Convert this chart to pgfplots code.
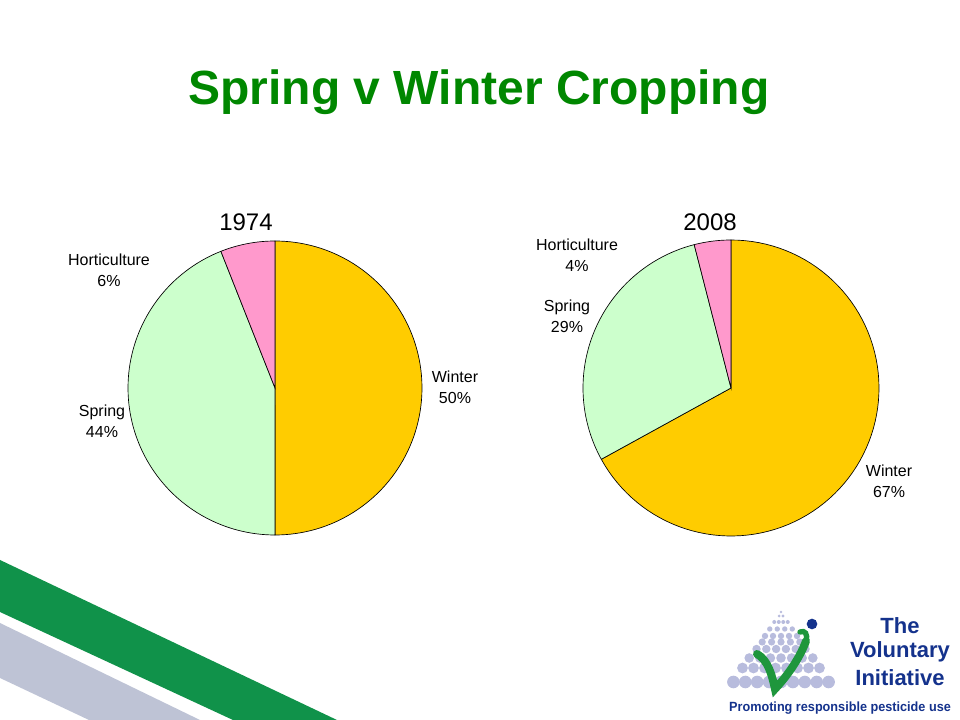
\documentclass[border=0pt]{standalone}
\usepackage{pgfplots}
\pgfplotsset{compat=1.18}
\usepackage{fontspec}
\setmainfont{Liberation Sans}

\definecolor{winter}{HTML}{FFCC00}
\definecolor{spring}{HTML}{CCFFCC}
\definecolor{hort}{HTML}{FF99CC}
\definecolor{titlegreen}{RGB}{0,135,0}
\definecolor{bandgreen}{RGB}{16,146,74}
\definecolor{bandgrey}{RGB}{190,195,213}
\definecolor{dotgrey}{RGB}{184,188,221}
\definecolor{logogreen}{RGB}{30,150,60}
\definecolor{navy}{RGB}{20,50,140}

% one slice: centre x, centre y, radius, start %, end %, colour
% slices run clockwise from 12 o'clock
\newcommand{\pieslice}[6]{%
  \pgfmathsetmacro{\ta}{90-3.6*#5}%
  \pgfmathsetmacro{\tb}{90-3.6*#4}%
  \addplot[fill=#6, draw=black, line width=0.5pt, domain=\ta:\tb, samples=90, variable=\t]
    ({#1+#3*cos(\t)}, {#2-#3*sin(\t)}) -- (axis cs:#1,#2) -- cycle;
}
% whole pie from the three shares: winter, spring, horticulture
\newcommand{\piechart}[6]{%
  \pgfmathsetmacro{\cwa}{#4}%
  \pgfmathsetmacro{\cwb}{#4+#5}%
  \pgfmathsetmacro{\cwc}{#4+#5+#6}%
  \pieslice{#1}{#2}{#3}{0}{\cwa}{winter}
  \pieslice{#1}{#2}{#3}{\cwa}{\cwb}{spring}
  \pieslice{#1}{#2}{#3}{\cwb}{\cwc}{hort}
}

\begin{document}
\begin{tikzpicture}
\useasboundingbox (0,0) rectangle (720pt,540pt);

% decoration in slide pixels (y downwards)
\begin{scope}[x=0.75pt, y=-0.75pt, shift={(0,540pt)}]
  \fill[bandgreen] (0,560) -- (337,720) -- (233,720) -- (0,612) -- cycle;
  \fill[bandgrey] (0,623) -- (200,720) -- (89,720) -- (0,678) -- cycle;

  \foreach \yy/\n/\sp/\r in {612/1/0/1.3, 616/2/3.8/1.6, 622/4/4.5/2.0, 629/4/7.5/2.7,
      636/5/8.0/3.2, 642/5/9.4/3.6, 649/6/9.8/4.2, 658/7/10.6/4.8, 668/8/11.0/5.4, 682/9/11.9/6.3} {
    \foreach \i in {1,...,\n} {
      \pgfmathsetmacro{\xx}{781+(\i-(\n+1)/2)*\sp}
      \fill[dotgrey] (\xx,\yy) circle[radius=\r*0.75pt];
    }
  }
  \draw[logogreen, line width=6pt, line cap=round]
    (757,654) .. controls (768,660) and (772,675) .. (775,689)
    .. controls (790,673) and (801,655) .. (806,641);
  \draw[logogreen, line width=4pt, line cap=round]
    (806,641) .. controls (808,634) and (805,630) .. (800,632);
  \fill[navy] (812,624) circle[radius=4pt];

  \begin{scope}[every node/.style={font=\fontsize{16.5}{18}\selectfont\bfseries, text=navy}]
    \node at (900,626) {The};
    \node at (900,652) {Voluntary};
    \node at (900,678) {Initiative};
  \end{scope}
  \node[font=\fontsize{10}{12}\selectfont\bfseries, text=navy, xscale=0.95] at (840,708) {Promoting responsible pesticide use};
\end{scope}

\begin{axis}[
    x=0.75pt, y=0.75pt,
    xmin=0, xmax=960,
    ymin=0, ymax=720,
    y dir=reverse,
    hide axis,
    clip=false,
    anchor=south west,
    at={(0,0)},
  ]

  % title
  \node[font=\fontsize{36}{42}\selectfont\bfseries, text=titlegreen] at (axis cs:479,92) {Spring v Winter Cropping};

  % 1974: winter 50, spring 44, horticulture 6
  \piechart{275}{388}{147}{50}{44}{6}
  % 2008: winter 67, spring 29, horticulture 4
  \piechart{731}{388}{148}{67}{29}{4}

  \node[font=\fontsize{18}{20}\selectfont] at (axis cs:246,222) {1974};
  \node[font=\fontsize{18}{20}\selectfont] at (axis cs:710,222) {2008};

  \begin{scope}[every node/.style={font=\fontsize{12}{15.6}\selectfont, align=center}]
    \node at (axis cs:109,270) {Horticulture\\6\%};
    \node at (axis cs:102,421) {Spring\\44\%};
    \node at (axis cs:455,387) {Winter\\50\%};
    \node at (axis cs:577,255) {Horticulture\\4\%};
    \node at (axis cs:567,316) {Spring\\29\%};
    \node at (axis cs:889,481) {Winter\\67\%};
  \end{scope}

\end{axis}
\end{tikzpicture}
\end{document}
